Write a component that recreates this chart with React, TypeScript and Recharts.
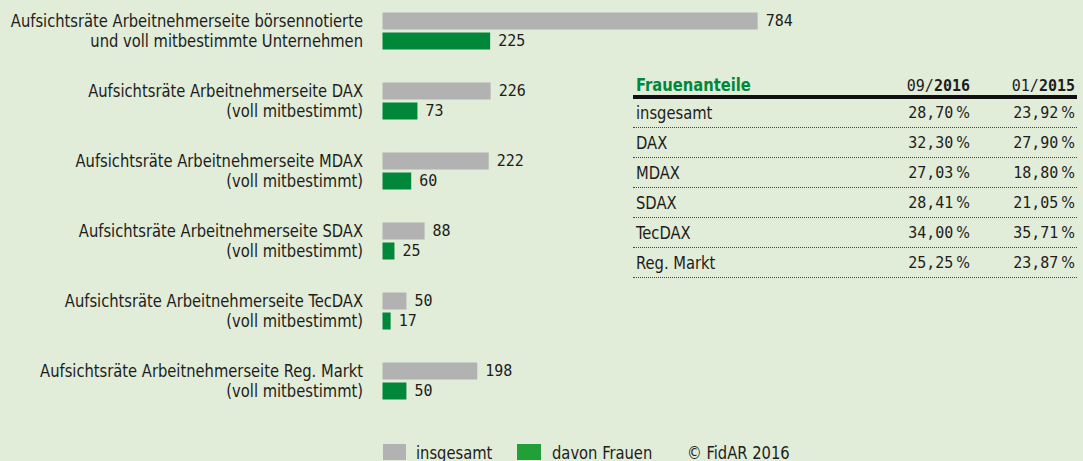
import React from 'react';
import { BarChart, Bar, XAxis, YAxis, LabelList } from 'recharts';

const line1 = [
  'Aufsichtsräte Arbeitnehmerseite börsennotierte',
  'Aufsichtsräte Arbeitnehmerseite DAX',
  'Aufsichtsräte Arbeitnehmerseite MDAX',
  'Aufsichtsräte Arbeitnehmerseite SDAX',
  'Aufsichtsräte Arbeitnehmerseite TecDAX',
  'Aufsichtsräte Arbeitnehmerseite Reg. Markt',
];
const line2 = [
  'und voll mitbestimmte Unternehmen',
  '(voll mitbestimmt)',
  '(voll mitbestimmt)',
  '(voll mitbestimmt)',
  '(voll mitbestimmt)',
  '(voll mitbestimmt)',
];
const insgesamt = [784, 226, 222, 88, 50, 198];
const frauen = [225, 73, 60, 25, 17, 50];

const tableLabels = ['insgesamt', 'DAX', 'MDAX', 'SDAX', 'TecDAX', 'Reg. Markt'];
const share2016 = ['28,70', '32,30', '27,03', '28,41', '34,00', '25,25'];
const share2015 = ['23,92', '27,90', '18,80', '21,05', '35,71', '23,87'];

const data = line1.map((l, i) => ({ name: String(i), l1: l, l2: line2[i], insgesamt: insgesamt[i], frauen: frauen[i] }));

const BG = '#e1ecd9';
const GRAY = '#b2b2b2';
const GREEN = '#00873a';
const LEGEND_GREEN = '#21a038';
const TEXT = '#1d1d1b';
const SANS = "'DejaVu Sans Condensed', 'DejaVu Sans', sans-serif";
const MONO = "'DejaVu Sans Mono', 'Liberation Mono', monospace";
const SX = 0.91;

const Tick = (props: any) => {
  const { x, y, payload } = props;
  const d = data[Number(payload.value)];
  return (
    <g transform={`translate(${x},${y}) scale(${SX},1)`}>
      <text x={0} y={-10} textAnchor="end" dominantBaseline="central" fontFamily={SANS} fontSize={18} fill={TEXT}>{d.l1}</text>
      <text x={0} y={10} textAnchor="end" dominantBaseline="central" fontFamily={SANS} fontSize={18} fill={TEXT}>{d.l2}</text>
    </g>
  );
};

const Cond = ({ children, origin = 'left', style = {} }: any) => (
  <span style={{ display: 'inline-block', transform: `scaleX(${SX})`, transformOrigin: origin, whiteSpace: 'nowrap', ...style }}>{children}</span>
);

const rowCenters = [113, 143, 173, 203, 233, 263];

const Pct = ({ v }: { v: string }) => (
  <span style={{ whiteSpace: 'nowrap', fontFamily: MONO, fontSize: 15 }}>
    {v}
    <span style={{ fontFamily: SANS, fontSize: 16, marginLeft: 3 }}>%</span>
  </span>
);

export default function App() {
  return (
    <div style={{ position: 'absolute', left: 0, top: 0, width: 1083, height: 461, background: BG, overflow: 'hidden' }}>
      <BarChart
        width={1083}
        height={461}
        layout="vertical"
        data={data}
        margin={{ top: -4.5, right: 222, bottom: 45.5, left: 0 }}
        barSize={17}
        barGap={3}
      >
        <XAxis type="number" domain={[0, 1000]} hide />
        <YAxis
          type="category"
          dataKey="name"
          width={382.5}
          axisLine={false}
          tickLine={false}
          tickSize={0}
          tickMargin={19.5}
          tick={<Tick />}
          interval={0}
        />
        <Bar dataKey="insgesamt" fill={GRAY} isAnimationActive={false}>
          <LabelList dataKey="insgesamt" position="right" offset={8} fontFamily={MONO} fontSize={15} fill={TEXT} />
        </Bar>
        <Bar dataKey="frauen" fill={GREEN} isAnimationActive={false}>
          <LabelList dataKey="frauen" position="right" offset={8} fontFamily={MONO} fontSize={15} fill={TEXT} />
        </Bar>
      </BarChart>

      <div style={{ position: 'absolute', left: 383, top: 442, height: 20, display: 'flex', alignItems: 'center', fontFamily: SANS, fontSize: 18, color: TEXT }}>
        <span style={{ width: 23, height: 16, background: GRAY, display: 'inline-block', flex: 'none' }} />
        <span style={{ marginLeft: 10, width: 101, flex: 'none' }}><Cond>insgesamt</Cond></span>
        <span style={{ width: 24, height: 16, background: LEGEND_GREEN, display: 'inline-block', flex: 'none' }} />
        <span style={{ marginLeft: 11, width: 135, flex: 'none' }}><Cond>davon Frauen</Cond></span>
        <span style={{ flex: 'none' }}><Cond>© FidAR 2016</Cond></span>
      </div>

      <div style={{ position: 'absolute', left: 633, top: 0, width: 444, height: 300, fontFamily: SANS, color: TEXT }}>
        <div style={{ position: 'absolute', left: 3, top: 74, fontWeight: 700, fontSize: 18, color: GREEN, lineHeight: '22px' }}>
          <Cond>Frauenanteile</Cond>
        </div>
        <div style={{ position: 'absolute', right: 107, top: 75, fontFamily: MONO, fontSize: 15, lineHeight: '22px' }}>09/<b>2016</b></div>
        <div style={{ position: 'absolute', right: 2, top: 75, fontFamily: MONO, fontSize: 15, lineHeight: '22px' }}>01/<b>2015</b></div>
        <div style={{ position: 'absolute', left: 0, right: 0, top: 95, height: 4, background: '#111' }} />
        {tableLabels.map((l, i) => (
          <React.Fragment key={l}>
            <div style={{ position: 'absolute', left: 3, top: rowCenters[i] - 11, fontSize: 18, lineHeight: '22px' }}><Cond>{l}</Cond></div>
            <div style={{ position: 'absolute', right: 107, top: rowCenters[i] - 11, lineHeight: '22px' }}><Pct v={share2016[i]} /></div>
            <div style={{ position: 'absolute', right: 2, top: rowCenters[i] - 11, lineHeight: '22px' }}><Pct v={share2015[i]} /></div>
            <div style={{ position: 'absolute', left: 0, right: 0, top: rowCenters[i] + 14, height: 0, borderTop: '1px dotted #444' }} />
          </React.Fragment>
        ))}
      </div>
    </div>
  );
}
